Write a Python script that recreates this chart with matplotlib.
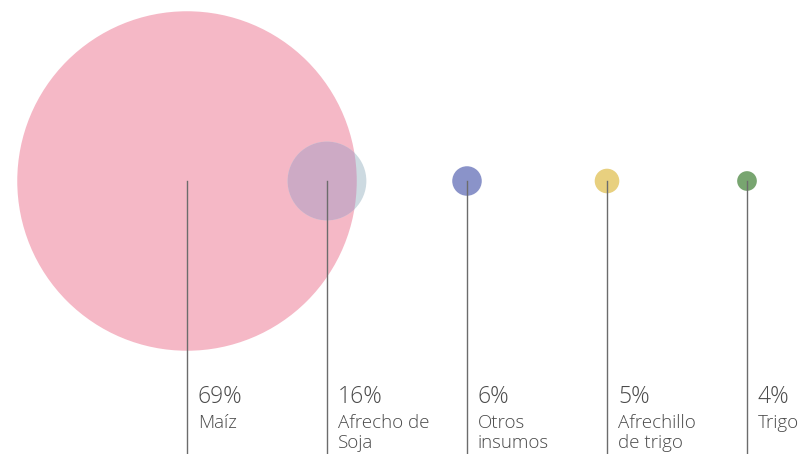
import matplotlib.pyplot as plt
from matplotlib.patches import Circle

# data
labels = ["Maíz", "Afrecho de\nSoja", "Otros\ninsumos", "Afrechillo\nde trigo", "Trigo"]
shares = [69, 16, 6, 5, 4]
colors = ["#F5B8C6", "#CDDAE1", "#8A93C9", "#E8D07F", "#78A570"]
overlap_color = "#CDAAC5"   # where the soja bubble sits over the maiz one

W, H = 803, 454
x0, step = 187, 140      # bubble centres along the row, in px
yc = 181                 # vertical centre of the row
px_per_pct = 2.46        # radius grows linearly with the share

fig = plt.figure(figsize=(W / 100, H / 100), dpi=100)
ax = fig.add_axes([0, 0, 1, 1])
ax.set_xlim(0, W)
ax.set_ylim(H, 0)
ax.axis("off")

font = ["Open Sans", "DejaVu Sans"]
circles = []
for i, (v, c) in enumerate(zip(shares, colors)):
    x = x0 + i * step
    circ = Circle((x, yc), v * px_per_pct, facecolor=c, edgecolor="none", zorder=1 + i)
    ax.add_patch(circ)
    circles.append(circ)

# tinted part of the second bubble, clipped to the first one
ov = Circle(circles[1].center, circles[1].radius, facecolor=overlap_color,
            edgecolor="none", zorder=6)
ax.add_patch(ov)
ov.set_clip_path(circles[0])

for i, (lab, v) in enumerate(zip(labels, shares)):
    x = x0 + i * step
    ax.plot([x, x], [yc, H], color="#6c6c6c", lw=1.0, zorder=10)
    ax.text(x + 11, 403, f"{v}%", fontsize=16.5, color="#4a4a4a",
            family=font, weight="light", va="baseline", ha="left")
    ax.text(x + 11, 414, lab, fontsize=13.5, color="#4a4a4a", family=font,
            weight="light", va="top", ha="left", linespacing=1.15)

fig.savefig("out.png", dpi=100)
